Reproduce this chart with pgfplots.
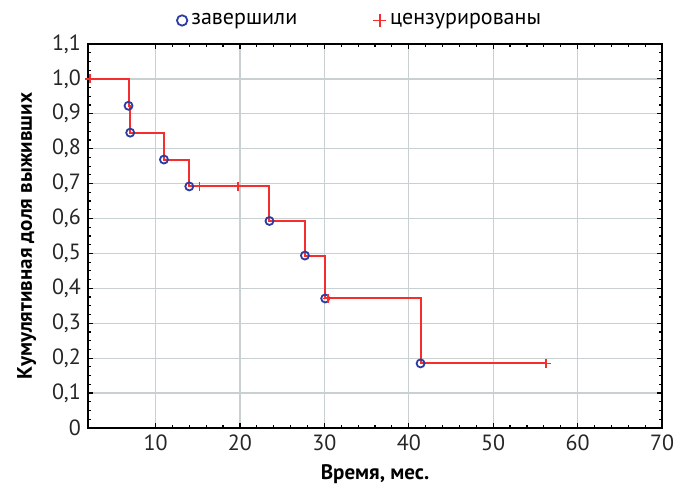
\documentclass[border=0pt]{standalone}
\usepackage{fontspec}
\setmainfont{PT Sans}
\usepackage{pgfplots}
\pgfplotsset{compat=1.18}
\definecolor{kmred}{RGB}{245,45,45}
\definecolor{kmblue}{RGB}{45,60,160}
\definecolor{gridc}{RGB}{200,208,210}
\begin{document}
\begin{tikzpicture}
\begin{axis}[
 name=ax,
 scale only axis, width=287pt, height=192pt,
 xmin=2, xmax=70, ymin=0, ymax=1.1,
 xtick={10,20,30,40,50,60,70},
 ytick={0,0.1,0.2,0.3,0.4,0.5,0.6,0.7,0.8,0.9,1.0,1.1},
 yticklabels={0,{0,1},{0,2},{0,3},{0,4},{0,5},{0,6},{0,7},{0,8},{0,9},{1,0},{1,1}},
 minor x tick num=4, minor y tick num=3,
 tick align=inside, major tick length=2.5pt, minor tick length=1.5pt,
 tick style={black, line width=0.6pt},
 grid=major, major grid style={gridc, line width=0.65pt},
 axis line style={line width=1pt},
 /pgf/number format/assume math mode=true,
 ticklabel style={font=\fontsize{11}{13}\selectfont, text=black!85},
 label style={font=\fontsize{10.5}{12}\selectfont\bfseries},
 xlabel={Время, мес.},
 ylabel={Кумулятивная доля выживших},
 ylabel style={yshift=1pt},
 legend style={draw=none, fill=none, at={(0.5,1.0)}, anchor=south, yshift=4pt, xshift=-7pt,
   legend columns=2, font=\fontsize{11}{13}\selectfont,
   /tikz/every even column/.append style={column sep=36pt}},
]
\addplot[kmred, line width=1pt, const plot mark left, forget plot] coordinates {
 (2,1.0) (6.8,0.923) (7.0,0.846) (11.0,0.769) (14.0,0.692) (23.5,0.593)
 (27.7,0.494) (30.1,0.371) (41.4,0.185) (56.3,0.185)};
\addplot[only marks, mark=o, mark size=2pt, mark options={kmblue, line width=0.9pt},
  legend image post style={mark size=2.6pt, line width=1.1pt}] coordinates {
 (6.8,0.923) (7.0,0.846) (11.0,0.769) (14.0,0.692) (23.5,0.593)
 (27.7,0.494) (30.1,0.371) (41.4,0.185)};
\addlegendentry{завершили}
\addplot[only marks, mark=+, mark size=2.2pt, mark options={kmred, line width=0.9pt},
  legend image post style={mark size=3.2pt, line width=1.5pt}] coordinates {
 (2.2,1.0) (15.2,0.692) (19.8,0.692) (30.4,0.371) (56.3,0.185)};
\addlegendentry{цензурированы}
\end{axis}
\useasboundingbox ([shift={(-44pt,-29pt)}]ax.south west) rectangle ([shift={(12pt,22pt)}]ax.north east);
\end{tikzpicture}
\end{document}
